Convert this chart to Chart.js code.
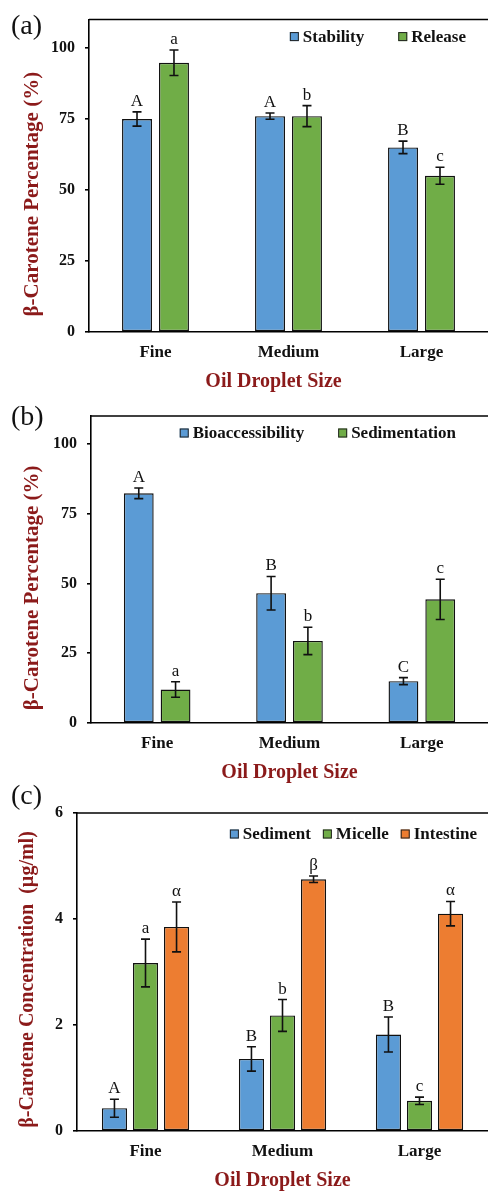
<!DOCTYPE html>
<html>
<head>
<meta charset="utf-8">
<script src="https://cdn.jsdelivr.net/npm/chart.js@4.4.1/dist/chart.umd.min.js"></script>
<style>
  body { margin: 0; width: 488px; height: 1194px; overflow: hidden; background: #fff; position: relative; }
  canvas { position: absolute; left: 0; }
  .lab { position: absolute; left: 11px; font: 28px "Liberation Serif", serif; line-height: 28px; color: #111; z-index: 2; }
</style>
</head>
<body>
<div class="lab" style="top:11px">(a)</div>
<div class="lab" style="top:402px">(b)</div>
<div class="lab" style="top:781px">(c)</div>
<canvas id="chartA" width="488" height="394" style="top:0"></canvas>
<canvas id="chartB" width="488" height="390" style="top:395px"></canvas>
<canvas id="chartC" width="488" height="408" style="top:785px"></canvas>
<script>
// categories
const categories = ['Fine', 'Medium', 'Large'];

// (a) stability / release (%)
const stability = [75, 76, 65];
const stabilityErr = [2.5, 1.1, 2.2];
const stabilityLetters = ['A', 'A', 'B'];
const release = [94.8, 76, 55];
const releaseErr = [4.5, 3.7, 3.0];
const releaseLetters = ['a', 'b', 'c'];

// (b) bioaccessibility / sedimentation (%)
const bioaccess = [82.3, 46.5, 15];
const bioaccessErr = [1.9, 6.0, 1.25];
const bioaccessLetters = ['A', 'B', 'C'];
const sedimentation = [12, 29.4, 44.3];
const sedimentationErr = [2.8, 4.9, 7.2];
const sedimentationLetters = ['a', 'b', 'c'];

// (c) concentration (µg/ml)
const sediment = [0.43, 1.36, 1.82];
const sedimentErr = [0.17, 0.23, 0.33];
const sedimentLetters = ['A', 'B', 'B'];
const micelle = [3.17, 2.18, 0.57];
const micelleErr = [0.45, 0.30, 0.07];
const micelleLetters = ['a', 'b', 'c'];
const intestine = [3.85, 4.75, 4.1];
const intestineErr = [0.47, 0.06, 0.23];
const intestineLetters = ['α', 'β', 'α'];

const BLUE = '#5B9BD5', GREEN = '#70AD47', ORANGE = '#ED7D31';
const TITLE_RED = '#8B1A1A';
const FONT = '"Liberation Serif", "Times New Roman", serif';

// error bars, letters, top frame line
const errorBars = {
  id: 'errorBars',
  afterDatasetsDraw(chart) {
    const ctx = chart.ctx;
    const y = chart.scales.y;
    const area = chart.chartArea;
    ctx.save();
    ctx.strokeStyle = '#000';
    ctx.lineWidth = 1.5;
    ctx.beginPath();
    ctx.moveTo(area.left, area.top);
    ctx.lineTo(area.right, area.top);
    ctx.stroke();
    chart.data.datasets.forEach((ds, i) => {
      const meta = chart.getDatasetMeta(i);
      meta.data.forEach((bar, j) => {
        const v = ds.data[j], e = ds.errors[j];
        const yTop = y.getPixelForValue(v + e);
        const yBot = y.getPixelForValue(v - e);
        ctx.strokeStyle = '#111';
        ctx.lineWidth = 1.6;
        ctx.beginPath();
        ctx.moveTo(bar.x, yTop); ctx.lineTo(bar.x, yBot);
        ctx.moveTo(bar.x - 4.5, yTop); ctx.lineTo(bar.x + 4.5, yTop);
        ctx.moveTo(bar.x - 4.5, yBot); ctx.lineTo(bar.x + 4.5, yBot);
        ctx.stroke();
        ctx.fillStyle = '#111';
        ctx.font = '17px ' + FONT;
        ctx.textAlign = 'center';
        ctx.textBaseline = 'bottom';
        ctx.fillText(ds.letters[j], bar.x, yTop - 2);
      });
    });
    ctx.restore();
  }
};

// legend drawn inside the plot frame, top right
const insideLegend = {
  id: 'insideLegend',
  afterDraw(chart, args, opts) {
    const ctx = chart.ctx;
    const area = chart.chartArea;
    ctx.save();
    ctx.font = 'bold 17px ' + FONT;
    const box = 9, boxGap = 4;
    const items = chart.data.datasets.map(d => ({ label: d.label, color: d.backgroundColor, w: ctx.measureText(d.label).width }));
    let total = 0;
    items.forEach((it, k) => { total += box + boxGap + it.w + (k ? opts.gap : 0); });
    let x = area.right - opts.right - total;
    const cy = area.top + opts.top;
    items.forEach(it => {
      ctx.fillStyle = it.color;
      ctx.fillRect(x, cy - box / 2, box, box);
      ctx.strokeStyle = '#222';
      ctx.lineWidth = 1;
      ctx.strokeRect(x + 0.5, cy - box / 2 + 0.5, box - 1, box - 1);
      ctx.fillStyle = '#111';
      ctx.textAlign = 'left';
      ctx.textBaseline = 'middle';
      ctx.fillText(it.label, x + box + boxGap, cy + 1);
      x += box + boxGap + it.w + opts.gap;
    });
    ctx.restore();
  }
};

function makeChart(id, datasets, opt) {
  return new Chart(document.getElementById(id), {
    type: 'bar',
    data: { labels: categories, datasets: datasets },
    options: {
      responsive: false,
      animation: false,
      categoryPercentage: opt.catPct,
      barPercentage: 0.81,
      layout: { padding: { top: opt.padTop, right: 0, bottom: 0, left: 0 } },
      plugins: {
        legend: { display: false },
        tooltip: { enabled: false },
        insideLegend: opt.legend
      },
      scales: {
        x: {
          grid: { display: false, drawTicks: false },
          border: { display: true, color: '#000', width: 1.6 },
          ticks: { color: '#111', padding: 10, font: { family: FONT, size: 17, weight: 'bold' } },
          title: { display: true, text: opt.xTitle, color: TITLE_RED, padding: { top: 0, bottom: 0 },
                   font: { family: FONT, size: 20, weight: 'bold' } },
          afterFit(s) { s.height = 62; }
        },
        y: {
          min: 0,
          max: opt.max,
          grid: { display: true, drawOnChartArea: false, drawTicks: true, tickLength: 4, color: '#000', lineWidth: 1.6 },
          border: { display: true, color: '#000', width: 1.6 },
          ticks: { stepSize: opt.step, includeBounds: false, color: '#111', padding: 10,
                   font: { family: FONT, size: 16, weight: 'bold' } },
          title: { display: true, text: opt.yTitle, color: TITLE_RED, padding: { top: opt.titleLeft, bottom: 0 },
                   font: { family: FONT, size: opt.yTitleSize, weight: 'bold' } },
          afterFit(s) { s.width = opt.axisLeft; }
        }
      }
    },
    plugins: [errorBars, insideLegend]
  });
}

function bars(label, data, errors, letters, color) {
  return { label: label, data: data, errors: errors, letters: letters,
           backgroundColor: color, borderColor: '#111', borderWidth: 1.4, borderSkipped: false };
}

makeChart('chartA', [
  bars('Stability', stability, stabilityErr, stabilityLetters, BLUE),
  bars('Release', release, releaseErr, releaseLetters, GREEN)
], { catPct: 0.556, padTop: 15, max: 110, step: 25, axisLeft: 89, titleLeft: 20, yTitleSize: 21,
     xTitle: 'Oil Droplet Size      ',
     yTitle: 'β-Carotene Percentage (%)       ', legend: { right: 22, gap: 34, top: 17 } });

makeChart('chartB', [
  bars('Bioaccessibility', bioaccess, bioaccessErr, bioaccessLetters, BLUE),
  bars('Sedimentation', sedimentation, sedimentationErr, sedimentationLetters, GREEN)
], { catPct: 0.556, padTop: 21, max: 110, step: 25, axisLeft: 91, titleLeft: 20, yTitleSize: 21,
     xTitle: 'Oil Droplet Size',
     yTitle: 'β-Carotene Percentage (%)       ', legend: { right: 32, gap: 34, top: 17 } });

makeChart('chartC', [
  bars('Sediment', sediment, sedimentErr, sedimentLetters, BLUE),
  bars('Micelle', micelle, micelleErr, micelleLetters, GREEN),
  bars('Intestine', intestine, intestineErr, intestineLetters, ORANGE)
], { catPct: 0.68, padTop: 28, max: 6, step: 2, axisLeft: 77, titleLeft: 16, yTitleSize: 20,
     xTitle: 'Oil Droplet Size',
     yTitle: 'β-Carotene Concentration  (µg/ml)   ', legend: { right: 11, gap: 12, top: 21 } });
</script>
</body>
</html>
